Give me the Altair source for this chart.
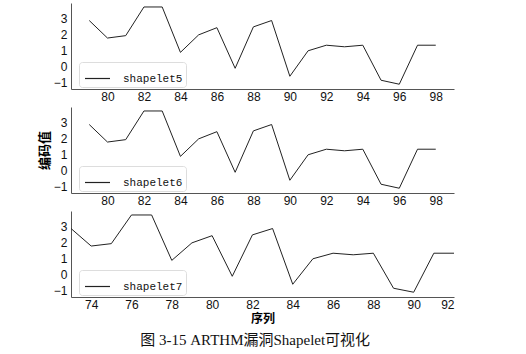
import altair as alt
import pandas as pd

series_names = ["shapelet5", "shapelet6", "shapelet7"]
x_start = [79, 79, 73]
values = [2.9, 1.8, 1.95, 3.75, 3.75, 0.9, 2.0, 2.45, -0.1, 2.5,
          2.9, -0.6, 1.0, 1.35, 1.25, 1.35, -0.85, -1.1, 1.35, 1.35]
x_domains = [[78, 99], [78, 99], [73, 92]]
x_ticks = [
    [80, 82, 84, 86, 88, 90, 92, 94, 96, 98],
    [80, 82, 84, 86, 88, 90, 92, 94, 96, 98],
    [74, 76, 78, 80, 82, 84, 86, 88, 90, 92],
]
y_ticks = [-1, 0, 1, 2, 3]
y_domain = [-1.4, 4.0]
x_title = "序列"
y_title = "编码值"
caption = "图 3-15 ARTHM漏洞Shapelet可视化"

W, H = 383, 86
tick_font = "Liberation Sans"
cjk_font = "Noto Sans CJK SC"


def panel(i):
    df = pd.DataFrame({
        "x": [x_start[i] + k for k in range(len(values))],
        "y": values,
        "s": series_names[i],
    })
    x_axis_kwargs = dict(values=x_ticks[i], format="d", ticks=False, labelPadding=2,
                         labelFontSize=12, labelFont=tick_font, labelColor="#111",
                         domainColor="#555", grid=False)
    if i == 2:
        x_axis = alt.Axis(title=x_title, titleFont=cjk_font, titleFontSize=12,
                          titleFontWeight="bold", titlePadding=3, **x_axis_kwargs)
    else:
        x_axis = alt.Axis(title=None, **x_axis_kwargs)
    y_axis_kwargs = dict(values=y_ticks, format="d", ticks=False, labelPadding=4,
                         labelFontSize=12, labelFont=tick_font, labelColor="#111",
                         domainColor="#555", grid=False)
    if i == 1:
        y_axis = alt.Axis(title=y_title, titleFont=cjk_font, titleFontSize=13,
                          titleFontWeight="bold", titlePadding=2, **y_axis_kwargs)
    else:
        y_axis = alt.Axis(title=None, **y_axis_kwargs)
    return alt.Chart(df).mark_line(strokeWidth=1).encode(
        x=alt.X("x:Q", scale=alt.Scale(domain=x_domains[i], nice=False, zero=False), axis=x_axis),
        y=alt.Y("y:Q", scale=alt.Scale(domain=y_domain, nice=False, zero=False), axis=y_axis),
        color=alt.Color("s:N", scale=alt.Scale(range=["#222222"]),
                        legend=alt.Legend(title=None, orient="none", legendX=8, legendY=59,
                                          symbolType="stroke", symbolSize=625, symbolOffset=2,
                                          symbolStrokeWidth=1.2, labelFont="Liberation Mono",
                                          labelFontSize=11, labelOffset=12, labelColor="#111",
                                          padding=3, strokeColor="#dddddd", cornerRadius=3,
                                          fillColor="white")),
    ).properties(width=W, height=H)


chart = alt.vconcat(panel(0), panel(1), panel(2), spacing=18, bounds="flush").resolve_scale(
    color="independent", x="independent"
).resolve_legend(color="independent").properties(
    title=alt.TitleParams(text=caption, orient="bottom", font="Liberation Serif, Noto Sans CJK SC",
                          fontSize=15, fontWeight="normal", color="#111", offset=9, anchor="middle",
                          dx=8),
    padding={"left": 38, "top": 3, "right": 5, "bottom": 5},
).configure_view(strokeWidth=0, stroke=None)

chart.save("out.html", embed_options={"renderer": "svg", "actions": False})
